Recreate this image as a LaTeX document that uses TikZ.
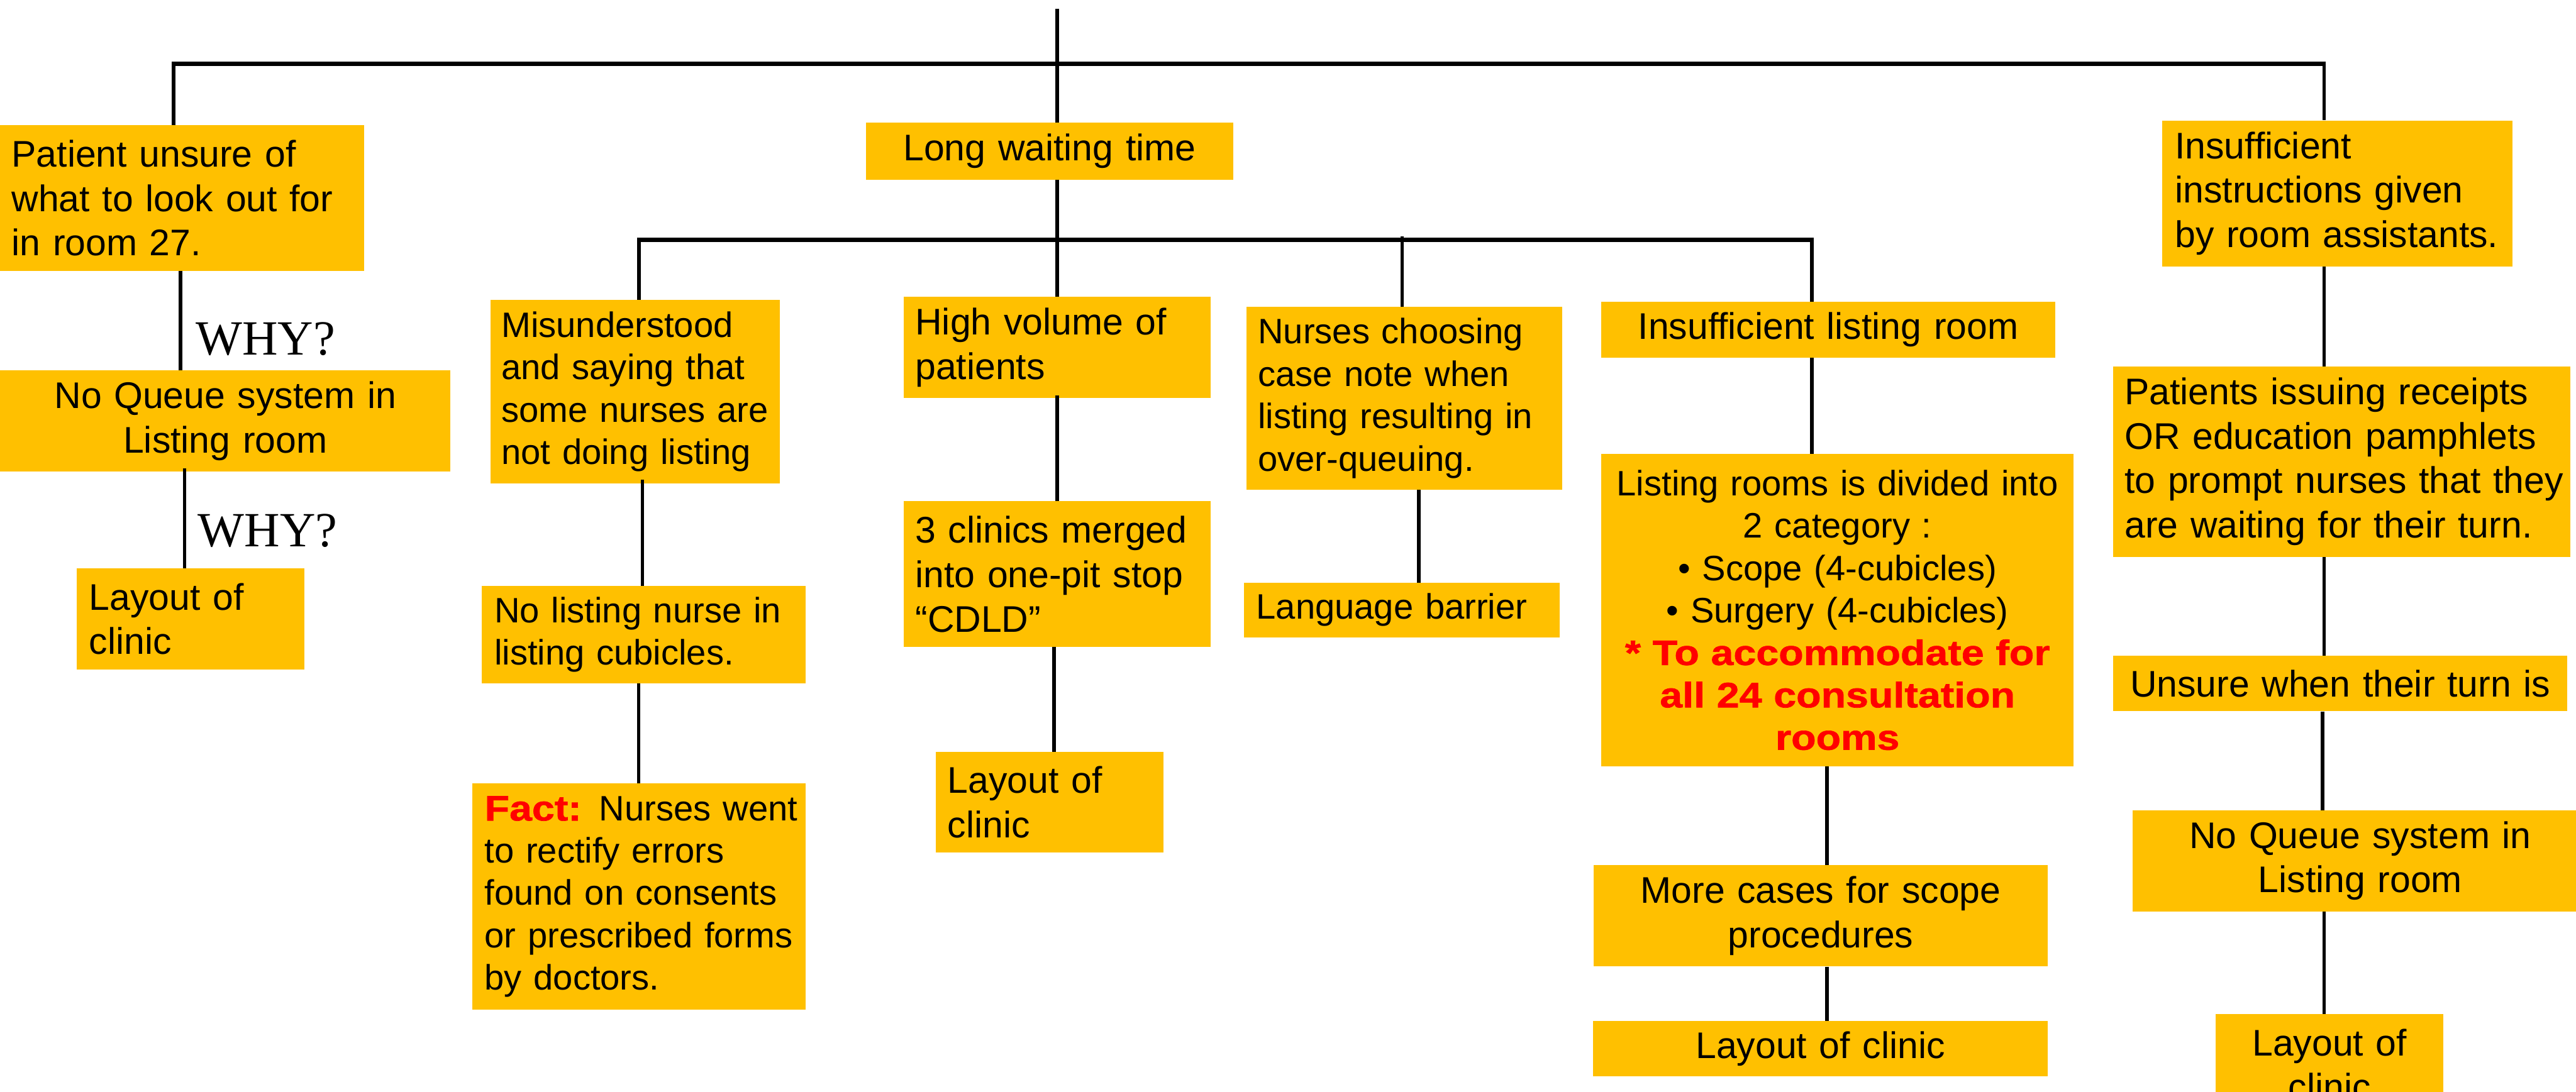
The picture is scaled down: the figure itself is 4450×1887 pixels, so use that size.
\documentclass[tikz,border=0pt]{standalone}
\usepackage{fontspec}
\setmainfont{Liberation Sans}
\newfontfamily\whyfont{Liberation Serif}
\newfontfamily\heavyfont[FakeStretch=1.15,FakeBold=1.2]{Liberation Sans}
\definecolor{gold}{RGB}{255,192,0}
\definecolor{redtxt}{RGB}{255,0,0}
\newcommand\oneline[1]{\mbox{#1}}
\begin{document}
\begin{tikzpicture}[x=1pt,y=-1pt,
  box/.style={fill=gold, anchor=north west, inner ysep=0pt, align=left,
    font=\fontsize{64}{76.8}\selectfont},
  cbox/.style={box, align=center},
  smalltext/.style={font=\fontsize{61}{73.2}\selectfont},
  conn/.style={line width=6pt},
  bar/.style={line width=7.5pt},
  why/.style={anchor=base west, inner sep=0pt, font=\whyfont\fontsize{85}{85}\selectfont}]
\useasboundingbox (0,0) rectangle (4450,1887);
\clip (0,0) rectangle (4450,1887);

% ---------- level 1 ----------
\node[box, inner xsep=20pt, text width=589pt, minimum height=252pt] (P1) at (0,216)
  {\oneline{Patient unsure of}\\\oneline{what to look out for}\\\oneline{in room 27.}};
\node[cbox, inner xsep=10pt, text width=614pt, minimum height=98pt] (LW) at (1496,212)
  {Long waiting time};
\node[box, inner xsep=22pt, text width=561pt, minimum height=252pt] (II) at (3735,208)
  {\oneline{Insufficient}\\\oneline{instructions given}\\\oneline{by room assistants.}};

% ---------- left branch ----------
\node[cbox, inner xsep=10pt, text width=758pt, minimum height=175pt] (NQ1) at (0,640)
  {No Queue system in\\Listing room};
\node[box, inner xsep=22pt, text width=350pt, minimum height=175pt] (LC1) at (132,982)
  {Layout of\\clinic};
\node[why] (why1) at (338,613) {WHY?};
\node[why] (why2) at (342,945) {WHY?};

% ---------- long waiting time branches ----------
\node[box, smalltext, inner xsep=19pt, text width=462pt, minimum height=317pt] (MU) at (847,518)
  {\oneline{Misunderstood}\\\oneline{and saying that}\\\oneline{some nurses are}\\\oneline{not doing listing}};
\node[box, smalltext, inner xsep=22pt, text width=515pt, minimum height=169pt] (NL) at (832,1012)
  {\oneline{No listing nurse in}\\\oneline{listing cubicles.}};
\node[box, smalltext, inner xsep=21pt, text width=533pt, minimum height=391pt] (FA) at (816,1354)
  {\oneline{{\heavyfont\bfseries\color{redtxt}Fact:} Nurses went}\\\oneline{to rectify errors}\\\oneline{found on consents}\\\oneline{or prescribed forms}\\\oneline{by doctors.}};

\node[box, inner xsep=20pt, text width=490pt, minimum height=174pt] (HV) at (1561,513)
  {\oneline{High volume of}\\\oneline{patients}};
\node[box, inner xsep=20pt, text width=490pt, minimum height=252pt] (TC) at (1561,866)
  {\oneline{3 clinics merged}\\\oneline{into one-pit stop}\\\oneline{“CDLD”}};
\node[box, inner xsep=21pt, text width=352pt, minimum height=174pt] (LC2) at (1616,1299)
  {Layout of\\clinic};

\node[box, smalltext, inner xsep=20pt, text width=505pt, minimum height=316pt] (NC) at (2153,530)
  {\oneline{Nurses choosing}\\\oneline{case note when}\\\oneline{listing resulting in}\\\oneline{over-queuing.}};
\node[box, smalltext, inner xsep=21pt, text width=503pt, minimum height=94pt] (LB) at (2149,1007)
  {Language barrier};

\node[cbox, inner xsep=10pt, text width=764pt, minimum height=97pt] (IL) at (2766,521)
  {Insufficient listing room};
\node[cbox, smalltext, inner xsep=10pt, text width=796pt, minimum height=540pt] (LR) at (2766,784)
  {\oneline{Listing rooms is divided into}\\2 category :\\• Scope (4-cubicles)\\• Surgery (4-cubicles)\\
   \oneline{\heavyfont\bfseries\color{redtxt}* To accommodate for}\\
   \oneline{\heavyfont\bfseries\color{redtxt}all 24 consultation}\\
   \oneline{\heavyfont\bfseries\color{redtxt}rooms}};
\node[cbox, inner xsep=10pt, text width=764pt, minimum height=175pt] (MC) at (2753,1495)
  {More cases for scope\\procedures};
\node[cbox, inner xsep=10pt, text width=765pt, minimum height=96pt] (LC3) at (2752,1764)
  {Layout of clinic};

% ---------- right branch ----------
\node[box, inner xsep=20pt, text width=750pt, minimum height=329pt] (PI) at (3650,633)
  {\oneline{Patients issuing receipts}\\\oneline{OR education pamphlets}\\\oneline{to prompt nurses that they}\\\oneline{are waiting for their turn.}};
\node[cbox, inner xsep=10pt, text width=765pt, minimum height=96pt] (UN) at (3650,1133)
  {\oneline{Unsure when their turn is}};
\node[cbox, inner xsep=10pt, text width=766pt, minimum height=175pt] (NQ2) at (3684,1400)
  {No Queue system in\\Listing room};
\node[cbox, inner xsep=10pt, text width=374pt, minimum height=175pt] (LC4) at (3827,1752)
  {Layout of\\clinic};

% ---------- connectors ----------
\coordinate (top) at (1826,15);
\coordinate (b1L) at (300,110);
\coordinate (b1M) at (1826,110);
\coordinate (b1R) at (4015,110);
\coordinate (b1Le) at (297,110);
\coordinate (b1Re) at (4018,110);
\draw[conn] (top) -- (b1M);
\draw[bar] (b1Le) -- (b1Re);
\draw[conn] (b1L) -- (b1L |- P1.north);
\draw[conn] (b1M) -- (b1M |- LW.north);
\draw[conn] ([yshift=4pt]b1R) -- (b1R |- II.north);

\coordinate (b2L) at (1104,414);
\coordinate (b2M) at (1826,414);
\coordinate (b2N) at (2422,414);
\coordinate (b2R) at (3130,414);
\coordinate (b2Le) at (1101,414);
\coordinate (b2Re) at (3133,414);
\draw[conn] (LW.south -| b2M) -- (b2M);
\draw[bar] (b2Le) -- (b2Re);
\draw[conn] (b2L) -- (b2L |- MU.north);
\draw[conn] (b2M) -- (b2M |- HV.north);
\draw[conn] ([yshift=5pt]b2N) -- (b2N |- NC.north);
\draw[conn] (b2R) -- (b2R |- IL.north);

\coordinate (k1) at (312,0);
\coordinate (k2) at (319,0);
\coordinate (k3) at (1110,0);
\coordinate (k4) at (1103,0);
\coordinate (k5) at (1826,0);
\coordinate (k6) at (1821,0);
\coordinate (k7) at (2451,0);
\coordinate (k8) at (3130,0);
\coordinate (k9) at (3156,0);
\coordinate (k10) at (4015,0);
\coordinate (k11) at (4012,0);

\draw[conn] (P1.south -| k1) -- (NQ1.north -| k1);
\draw[conn] ([yshift=6pt]NQ1.south -| k2) -- (LC1.north -| k2);
\draw[conn] ([yshift=6pt]MU.south -| k3) -- (NL.north -| k3);
\draw[conn] (NL.south -| k4) -- (FA.north -| k4);
\draw[conn] ([yshift=4pt]HV.south -| k5) -- (TC.north -| k5);
\draw[conn] (TC.south -| k6) -- (LC2.north -| k6);
\draw[conn] (NC.south -| k7) -- (LB.north -| k7);
\draw[conn] (IL.south -| k8) -- (LR.north -| k8);
\draw[conn] (LR.south -| k9) -- (MC.north -| k9);
\draw[conn] (MC.south -| k9) -- (LC3.north -| k9);
\draw[conn] (II.south -| k10) -- (PI.north -| k10);
\draw[conn] (PI.south -| k10) -- (UN.north -| k10);
\draw[conn] (UN.south -| k11) -- (NQ2.north -| k11);
\draw[conn] (NQ2.south -| k10) -- (LC4.north -| k10);
\end{tikzpicture}
\end{document}
